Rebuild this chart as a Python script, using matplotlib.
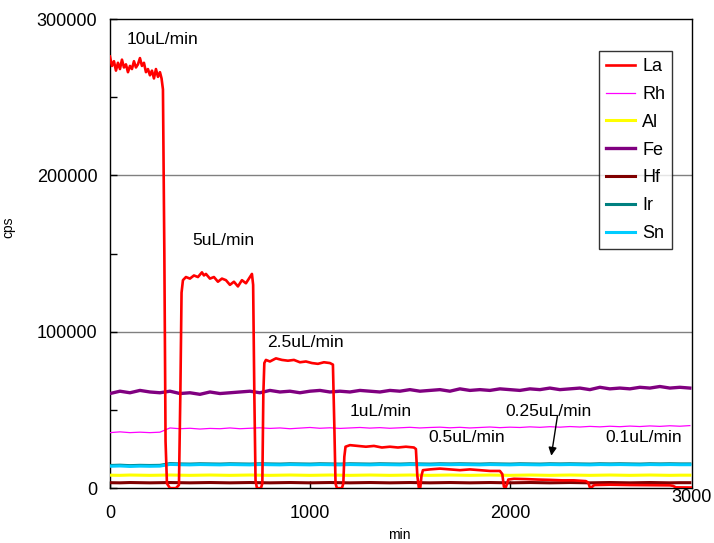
import numpy as np
import matplotlib
matplotlib.use("Agg")
import matplotlib.pyplot as plt

plt.rcParams["font.family"] = ["Liberation Sans", "DejaVu Sans"]

# La signal: flow-rate steps (min, cps)
la_t = [0, 10, 20, 30, 40, 50, 60, 70, 80, 90, 100, 110, 120, 130, 140, 150,
        160, 170, 180, 190, 200, 210, 220, 230, 240, 250, 258, 265, 272, 278,
        285, 300, 330, 345, 352, 358, 365,
        380, 400, 420, 440, 460, 470, 480, 500, 520, 540, 560, 580, 600, 620,
        640, 660, 680, 700, 710, 716, 722, 728, 735, 755, 762, 767, 772,
        780, 800, 830, 860, 890, 920, 950, 980, 1010, 1040, 1070, 1100, 1115,
        1122, 1128, 1135, 1160, 1167, 1172, 1178,
        1200, 1240, 1280, 1320, 1360, 1400, 1440, 1480, 1520, 1530, 1537,
        1545, 1552, 1558, 1565,
        1600, 1650, 1700, 1750, 1800, 1850, 1900, 1950, 1962, 1970, 1978,
        1985, 1992,
        2020, 2080, 2140, 2200, 2260, 2320, 2380, 2392, 2400, 2408, 2415, 2425,
        2500, 2600, 2700, 2800, 2815, 2830, 2910]
la_v = [276000, 270000, 273000, 267000, 272000, 268000, 274000, 269000, 271000,
        266000, 270000, 268000, 273000, 269000, 271000, 275000, 270000, 272000,
        266000, 268000, 264000, 267000, 262000, 268000, 263000, 266000, 262000,
        255000, 150000, 30000, 3000, 0, 0, 2000, 60000, 125000, 133000,
        135000, 134000, 136000, 135000, 138000, 136000, 137000, 134000, 135000,
        132000, 134000, 133000, 130000, 132000, 129000, 133000, 131000, 135000,
        137000, 130000, 60000, 5000, 0, 0, 3000, 60000, 80000,
        82000, 81000, 83000, 82000, 81500, 82000, 80500, 81000, 80000, 79500,
        80500, 80000, 79000, 40000, 3000, 0, 0, 3000, 20000, 26500,
        27500, 27000, 26500, 27000, 26000, 26500, 26000, 26500, 26000, 25000,
        8000, 0, 500, 8000, 11500,
        12000, 12500, 12000, 11500, 12000, 11500, 11000, 11000, 9000, 1000, 0,
        2500, 5500,
        6000, 5800, 5500, 5300, 5000, 5000, 4500, 3500, 500, 0, 1500, 2000,
        2200, 2000, 1900, 1800, 1500, 500, 400]

# other elements, sampled every 50 min
fe_v = [60500, 62000, 61000, 62500, 61500, 61000, 62000, 60500, 61000, 60000,
        61500, 60500, 61000, 61500, 62000, 61000, 62500, 61500, 62000, 61000,
        62000, 62500, 61500, 62000, 61500, 62500, 62000, 61500, 62500, 62000,
        63000, 62000, 62500, 63000, 62000, 63500, 62500, 63000, 62500, 63500,
        63000, 62500, 63500, 63000, 64000, 63000, 63500, 64000, 63000, 64500,
        63500, 64000, 63500, 64500, 64000, 65000, 64000, 64500, 64000]
rh_v = [35500, 36000, 35500, 35800, 35500, 35800, 38500, 38000, 38300, 37800,
        38200, 38000, 38500, 38000, 38300, 38600, 38200, 38500, 38000, 38400,
        38800, 38300, 38600, 38200, 38500, 38800, 38400, 38700, 38300, 38600,
        38900, 38500, 38800, 39000, 38600, 38900, 38500, 38800, 39100, 38700,
        39000, 38800, 39200, 38900, 39300, 39000, 39400, 39100, 39500, 39200,
        39600, 39300, 39700, 39400, 39800, 39500, 39900, 39600, 40000]
sn_v = [14000, 14200, 13900, 14100, 14000, 14100, 15200, 15000, 14900, 15100,
        15000, 14900, 15100, 15000, 14900, 15100, 15000, 14900, 15100, 15000,
        14900, 15100, 15000, 14900, 15100, 15000, 14900, 15100, 15000, 14900,
        15100, 15000, 14900, 15100, 15000, 15100, 15000, 14900, 15100, 15000,
        14900, 15100, 15000, 14900, 15100, 15000, 15100, 15000, 14900, 15100,
        15000, 15100, 15000, 14900, 15100, 15000, 15100, 15000, 15000]
ir_v = [v + 500 for v in sn_v]
al_v = [8300, 8200, 8400, 8300, 8200, 8300, 8400, 8300, 8200, 8300,
        8400, 8300, 8200, 8300, 8400, 8300, 8200, 8300, 8400, 8300,
        8200, 8300, 8400, 8300, 8200, 8300, 8400, 8300, 8200, 8300,
        8400, 8300, 8200, 8300, 8400, 8300, 8200, 8300, 8400, 8300,
        8200, 8300, 8400, 8300, 8200, 8300, 8400, 8300, 8200, 8300,
        8400, 8300, 8200, 8300, 8400, 8300, 8200, 8300, 8300]
hf_v = [3500, 3400, 3600, 3500, 3400, 3500, 3600, 3500, 3400, 3500,
        3600, 3500, 3400, 3500, 3600, 3500, 3400, 3500, 3600, 3500,
        3400, 3500, 3600, 3500, 3400, 3500, 3600, 3500, 3400, 3500,
        3600, 3500, 3400, 3500, 3600, 3500, 3400, 3500, 3600, 3500,
        3400, 3500, 3600, 3500, 3400, 3500, 3600, 3500, 3400, 3500,
        3600, 3500, 3400, 3500, 3600, 3500, 3400, 3500, 3500]
step_min = 50

flow_labels = ["10uL/min", "5uL/min", "2.5uL/min", "1uL/min", "0.25uL/min",
               "0.5uL/min", "0.1uL/min"]
label_x = [85, 410, 785, 1200, 1975, 1590, 2475]
label_y = [286600, 158600, 93400, 49300, 49300, 32600, 32600]

t50 = np.arange(len(fe_v)) * step_min

fig = plt.figure(figsize=(7.14, 5.43), dpi=100)
ax = fig.add_axes([0.154, 0.101, 0.815, 0.864])

series = [
    ("La", la_t, la_v, "#FF0000", 1.9, 10),
    ("Rh", t50, rh_v, "#FF00FF", 0.9, 3),
    ("Al", t50, al_v, "#FFFF00", 2.2, 3),
    ("Fe", t50, fe_v, "#800080", 2.4, 3),
    ("Hf", t50, hf_v, "#800000", 2.2, 3),
    ("Ir", t50, ir_v, "#008080", 2.2, 3),
    ("Sn", t50, sn_v, "#00CCFF", 2.2, 4),
]
for name, t, v, c, lw, z in series:
    ax.plot(t, v, color=c, lw=lw, label=name, zorder=z)

ax.set_xlim(0, 2910)
ax.set_ylim(0, 300000)
ax.set_xticks([0, 1000, 2000])
ax.set_yticks([0, 100000, 200000, 300000])
ax.set_yticks([50000, 150000, 250000], minor=True)
ax.tick_params(axis="both", direction="in", labelsize=13, length=5, width=1)
ax.tick_params(axis="y", which="minor", direction="in", length=5, width=1)
ax.tick_params(axis="x", pad=12)
ax.tick_params(axis="y", pad=9)
ax.text(1.0, -0.02, "3000", transform=ax.transAxes, ha="center", va="center",
        fontsize=13)
for y in [100000, 200000]:
    ax.axhline(y, color="#808080", lw=1, zorder=1)
for s in ax.spines.values():
    s.set_linewidth(1)

ax.set_ylabel("cps", fontsize=10)
ax.yaxis.set_label_coords(-0.163, 0.556)
ax.set_xlabel("min", fontsize=10)
ax.xaxis.set_label_coords(0.498, -0.085)

for txt, x, y in zip(flow_labels, label_x, label_y):
    ax.text(x, y, txt, fontsize=12.5, ha="left", va="center", zorder=12)
ax.annotate("", xy=(2205, 19000), xytext=(2240, 48000),
            arrowprops=dict(arrowstyle="-|>", color="black", lw=1,
                            mutation_scale=12), zorder=12)

leg = ax.legend(loc="upper left", bbox_to_anchor=(0.840, 0.932), fontsize=13,
                frameon=True, fancybox=False, edgecolor="black",
                handlelength=1.6, labelspacing=0.6, handletextpad=0.4,
                borderpad=0.4, borderaxespad=0)
leg.get_frame().set_linewidth(1)
leg.set_zorder(15)

fig.savefig("out.png", dpi=100)
